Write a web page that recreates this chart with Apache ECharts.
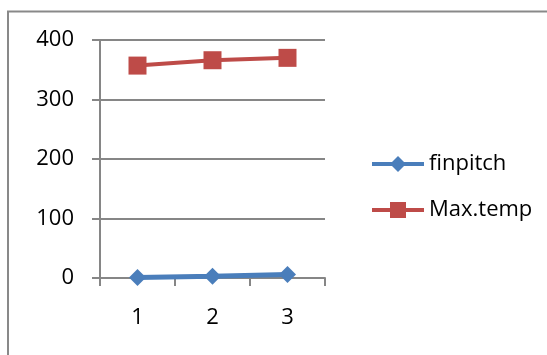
<!DOCTYPE html>
<html>
<head>
<meta charset="utf-8">
<script src="https://cdn.jsdelivr.net/npm/echarts@6/dist/echarts.min.js"></script>
<style>
  html, body { margin: 0; padding: 0; background: #fff; }
  #chart { width: 547px; height: 355px; }
</style>
</head>
<body>
<div id="chart"></div>
<script>
// Run numbers along the x axis
const categories = ['1', '2', '3'];
// Series values
const finpitch = [1, 3, 6];
const maxTemp = [357, 366, 370];
// Value axis ticks
const yTicks = [0, 100, 200, 300, 400];

const FONT = '"Open Sans", "Liberation Sans", sans-serif';
const GRAY = '#868686';
const BLUE = '#4A7EBB';
const RED = '#BE4B48';

const chart = echarts.init(document.getElementById('chart'), null, { renderer: 'canvas' });

chart.setOption({
  animation: false,
  backgroundColor: '#fff',
  graphic: [{
    type: 'rect',
    shape: { x: 8, y: 11.5, width: 600, height: 400 },
    style: { fill: 'none', stroke: '#898989', lineWidth: 2 },
    silent: true
  }],
  grid: { left: 100, right: 222, top: 40, bottom: 77, containLabel: false },
  legend: {
    orient: 'vertical',
    left: 365,
    top: 148,
    itemWidth: 52,
    itemHeight: 20,
    itemGap: 24,
    lineStyle: { width: 4 },
    textStyle: { fontFamily: FONT, fontSize: 22, color: '#000' },
    data: ['finpitch', 'Max.temp']
  },
  xAxis: {
    type: 'category',
    data: categories,
    boundaryGap: true,
    axisLine: { show: true, lineStyle: { color: GRAY, width: 2 } },
    axisTick: { show: true, length: 8, inside: false, lineStyle: { color: GRAY, width: 2 } },
    axisLabel: { fontFamily: FONT, fontSize: 22, color: '#000', margin: 29 },
    splitLine: { show: false }
  },
  yAxis: {
    type: 'value',
    min: yTicks[0],
    max: yTicks[yTicks.length - 1],
    interval: yTicks[1] - yTicks[0],
    axisLine: { show: true, lineStyle: { color: GRAY, width: 2 } },
    axisTick: { show: true, length: 8, lineStyle: { color: GRAY, width: 2 } },
    axisLabel: { fontFamily: FONT, fontSize: 22, color: '#000', margin: 26 },
    splitLine: { show: true, lineStyle: { color: GRAY, width: 2 } }
  },
  series: [
    {
      name: 'finpitch',
      type: 'line',
      data: finpitch,
      symbol: 'diamond',
      symbolSize: 17,
      itemStyle: { color: BLUE },
      lineStyle: { color: BLUE, width: 5 },
      z: 3
    },
    {
      name: 'Max.temp',
      type: 'line',
      data: maxTemp,
      symbol: 'rect',
      symbolSize: 18,
      itemStyle: { color: RED },
      lineStyle: { color: RED, width: 4 },
      z: 3
    }
  ]
});
</script>
</body>
</html>
